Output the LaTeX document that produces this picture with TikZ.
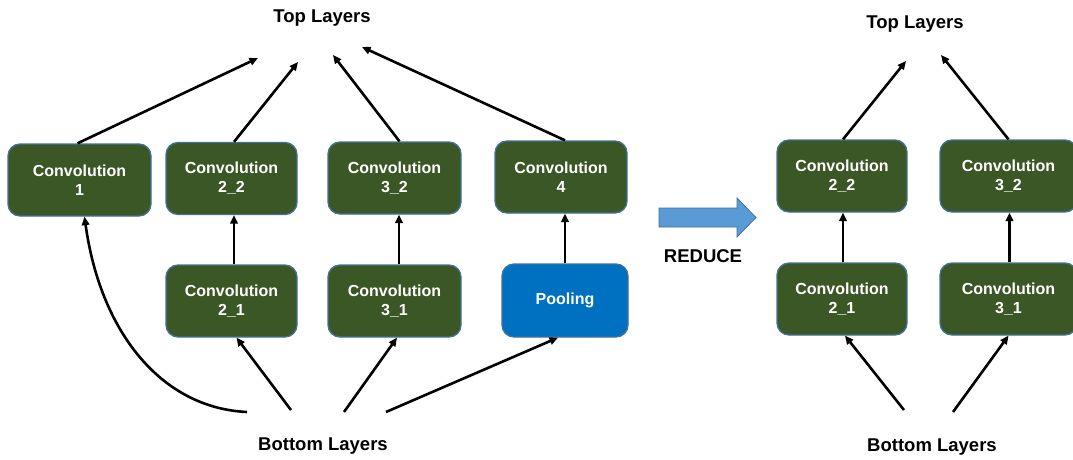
\documentclass[tikz,border=0pt]{standalone}
\usepackage{fontspec}
\setmainfont{Liberation Sans}
\usetikzlibrary{arrows.meta}
\definecolor{boxgreen}{HTML}{3B5725}
\definecolor{boxedge}{HTML}{41719C}
\definecolor{poolblue}{HTML}{0070C0}
\definecolor{arrowblue}{HTML}{5B9BD5}
\begin{document}
\begin{tikzpicture}[x=1pt,y=-1pt,
  layerbox/.style={rectangle, rounded corners=12, draw=boxedge, line width=1.3, fill=boxgreen,
    text=white, font=\bfseries\fontsize{16}{19}\selectfont, align=center, inner sep=0,
    minimum height=72},
  poolbox/.style={layerbox, fill=poolblue},
  lbl/.style={font=\bfseries\fontsize{18.5}{22}\selectfont, inner sep=0},
  arr/.style={line width=2.6, -{Triangle[length=8.5,width=7.5]}}]
\useasboundingbox (0,0) rectangle (1073,460);
% left part
\node[lbl] (top) at (322,18) {Top Layers};
\node[lbl] (bot) at (323,446) {Bottom Layers};
\node[layerbox, minimum width=143] (c1) at (79.5,180) {Convolution\\1};
\node[layerbox, minimum width=131] (c22) at (231.5,178.5) {Convolution\\2\_2};
\node[layerbox, minimum width=131] (c21) at (231.5,301) {Convolution\\2\_1};
\node[layerbox, minimum width=133] (c32) at (394.5,178) {Convolution\\3\_2};
\node[layerbox, minimum width=133] (c31) at (394.5,301) {Convolution\\3\_1};
\node[layerbox, minimum width=132] (c4) at (561,177) {Convolution\\4};
\node[poolbox, minimum width=126, minimum height=73] (pool) at (565,300.5) {Pooling};
\coordinate (t1) at (258,58);
\coordinate (t2) at (298,62);
\coordinate (t3) at (333,55);
\coordinate (t4) at (362,47);
\coordinate (b1) at (247,412);
\coordinate (b2) at (291,410);
\coordinate (b3) at (344,412);
\coordinate (b4) at (386,412);
\draw[arr] ([xshift=-2]c1.north) -- (t1);
\draw[arr] ([xshift=2.5]c22.north) -- (t2);
\draw[arr] ([xshift=5]c32.north) -- (t3);
\draw[arr] ([xshift=4]c4.north) -- (t4);
\draw[arr] ([xshift=2.5]c21.north) -- ([xshift=2.5]c22.south);
\draw[arr] ([xshift=4.5]c31.north) -- ([xshift=4.5]c32.south);
\draw[arr] (pool.north) -- ([xshift=4]c4.south);
\draw[arr] (b1) .. controls (160,408) and (100,330) .. ([xshift=5]c1.south);
\draw[arr] (b2) -- ([xshift=5]c21.south);
\draw[arr] (b3) -- ([xshift=2.5]c31.south);
\draw[arr] (b4) -- ([xshift=-7]pool.south);
% reduce arrow
\filldraw[draw=boxedge, line width=0.8, fill=arrowblue]
  (659,208) -- (737,208) -- (737,198) -- (756,217.5) -- (737,237) -- (737,227) -- (659,227) -- cycle;
\node[lbl] (redlbl) at (703,256) {REDUCE};
% right part
\node[lbl] (rtop) at (915,24) {Top Layers};
\node[lbl] (rbot) at (932,447) {Bottom Layers};
\node[layerbox, minimum width=130] (r22) at (842,176) {Convolution\\2\_2};
\node[layerbox, minimum width=130] (r21) at (842,299) {Convolution\\2\_1};
\node[layerbox, minimum width=137] (r32) at (1008.5,176) {Convolution\\3\_2};
\node[layerbox, minimum width=137] (r31) at (1008.5,299) {Convolution\\3\_1};
\coordinate (rt1) at (906,61);
\coordinate (rt2) at (941,55);
\coordinate (rb1) at (904,410);
\coordinate (rb2) at (953,412);
\draw[arr] ([xshift=1]r22.north) -- (rt1);
\draw[arr] ([xshift=0]r32.north) -- (rt2);
\draw[arr] ([xshift=1]r21.north) -- ([xshift=1]r22.south);
\draw[arr] ([xshift=1]r31.north) -- ([xshift=1]r32.south);
\draw[arr] (rb1) -- ([xshift=3]r21.south);
\draw[arr] (rb2) -- ([xshift=0]r31.south);
\end{tikzpicture}
\end{document}
